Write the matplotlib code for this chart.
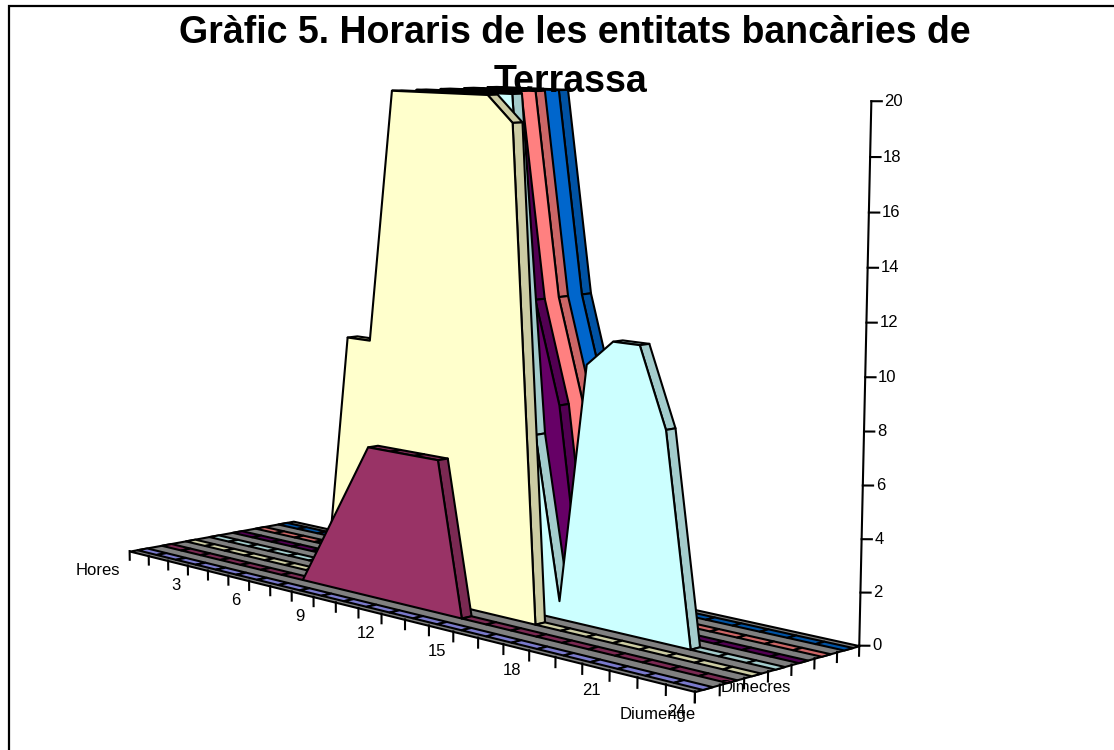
import numpy as np
import matplotlib
matplotlib.use("Agg")
import matplotlib.pyplot as plt
from matplotlib.lines import Line2D
from matplotlib.colors import to_rgb
from mpl_toolkits.mplot3d import proj3d
from mpl_toolkits.mplot3d.art3d import Poly3DCollection

plt.rcParams['font.family'] = ['Liberation Sans', 'DejaVu Sans']

#### data
hour_labels = ['Hores', '1', '2', '3', '4', '5', '6', '7', '8', '9', '10', '11', '12',
               '13', '14', '15', '16', '17', '18', '19', '20', '21', '22', '23', '24']
days = ['Diumenge', 'Dissabte', 'Divendres', 'Dijous', 'Dimecres', 'Dimarts', 'Dilluns']
diumenge  = [0]*25
dissabte  = [0,0,0,0,0,0,0,0,2,4,6,6,6,6,0,0,0,0,0,0,0,0,0,0,0]
divendres = [0,0,0,0,0,0,0,0,10,10,20,20,20,20,20,19,0,0,0,0,0,0,0,0,0]
dijous    = [0,0,0,0,0,0,0,0,10,10,20,20,20,20,20,7,0.7,10,11,11,8,0,0,0,0]
dimecres  = [0,0,0,0,0,0,0,0,10,10,20,20,20,20,12,8,0,0,0,0,0,0,0,0,0]
dimarts   = [0,0,0,0,0,0,0,0,10,10,20,20,20,20,12,8,0,0,0,0,0,0,0,0,0]
dilluns   = [0,0,0,0,0,0,0,0,10,10,20,20,20,20,12,8,0,0,0,0,0,0,0,0,0]
series = [diumenge, dissabte, divendres, dijous, dimecres, dimarts, dilluns]
colors = ['#9999FF', '#993366', '#FFFFCC', '#CCFFFF', '#660066', '#FF8080', '#0066CC']
yticks = [0, 2, 4, 6, 8, 10, 12, 14, 16, 18, 20]
hour_shown = [0, 3, 6, 9, 12, 15, 18, 21, 24]
day_shown = [0, 4]

W, H = 1114, 750
fig = plt.figure(figsize=(W/100, H/100), dpi=100)
# frame: only the left and top sides are in the picture
fig.add_artist(Line2D([8.5/W, 8.5/W, 1], [0, 1-5.5/H, 1-5.5/H], transform=fig.transFigure,
                      color='black', linewidth=1.6, solid_joinstyle='miter'))

#### camera, fitted against the picture
S = 955.7
ax = fig.add_axes([-23.4/W, -87.0/H, S/W, S/H], projection='3d', computed_zorder=False)
ax.set_xlim(0, 24)
ax.set_ylim(0, 7)
ax.set_zlim(0, 20)
ax.view_init(elev=7.7643, azim=-44.4712, roll=-0.1097)
ax.set_proj_type('persp', focal_length=0.51814)
ax.set_box_aspect((1, 0.29015, 0.62756))
ax.set_axis_off()
ax.patch.set_alpha(0)

lw = 1.5
z = 1

def face(verts, color):
    global z
    ax.add_collection3d(Poly3DCollection([verts], facecolors=color, edgecolors='black',
                                         linewidths=lw, zorder=z))
    z += 1

# floor
face([(0,0,0), (24,0,0), (24,7,0), (0,7,0)], '#808080')

# axis
ax.plot([24,24], [7,7], [0,20], color='black', lw=lw, zorder=500)
for v in yticks:
    ax.plot([24,24.2], [7,7.2], [v,v], color='black', lw=lw, zorder=500)
for h in range(25):
    ax.plot([h,h], [0,0], [0,-0.38], color='black', lw=lw, zorder=500)
for d in range(8):
    ax.plot([24,24], [d,d], [0,-0.38], color='black', lw=lw, zorder=500)

# ribbons, back to front
hours = np.arange(25)
for d in range(6, -1, -1):
    vals = series[d]
    col = colors[d]
    dark = tuple(0.8*c for c in to_rgb(col))
    y0, y1 = d+0.3, d+0.7
    for h in range(24):
        if vals[h+1] <= vals[h]:
            face([(hours[h],y0,vals[h]), (hours[h+1],y0,vals[h+1]),
                  (hours[h+1],y1,vals[h+1]), (hours[h],y1,vals[h])], dark)
    # rising tops look away from the viewer, the front face covers them
    if max(vals) > 0:
        first = np.nonzero(vals)[0][0]-1
        last = np.nonzero(vals)[0][-1]+1
        face([(hours[h],y0,vals[h]) for h in range(first, last+1)], col)

# labels
M = ax.get_proj()
def label(txt, h, d, v, dx, dy, ha='center'):
    x, y, _ = proj3d.proj_transform(h, d, v, M)
    ax.annotate(txt, xy=(x, y), xytext=(dx*0.72, dy*0.72), textcoords='offset points',
                ha=ha, va='center', fontsize=12, annotation_clip=False, zorder=900)

for v in yticks:
    label(str(v), 24, 7, v, 13, 0, ha='left')
for h in hour_shown:
    if h == 0:
        label(hour_labels[h], h, 0, 0, -10, -19, ha='right')
    else:
        label(hour_labels[h], h, 0, 0, -11-8*h/24, -20)
for i in day_shown:
    label(days[i], 24, i+0.5, 0, -12, -26, ha='right')

fig.text(575/W, 1-33/H, 'Gràfic 5. Horaris de les entitats bancàries de', ha='center', va='center',
         fontsize=27, fontweight='bold')
fig.text(570/W, 1-82/H, 'Terrassa', ha='center', va='center', fontsize=27, fontweight='bold')

fig.savefig('out.png', dpi=100)
